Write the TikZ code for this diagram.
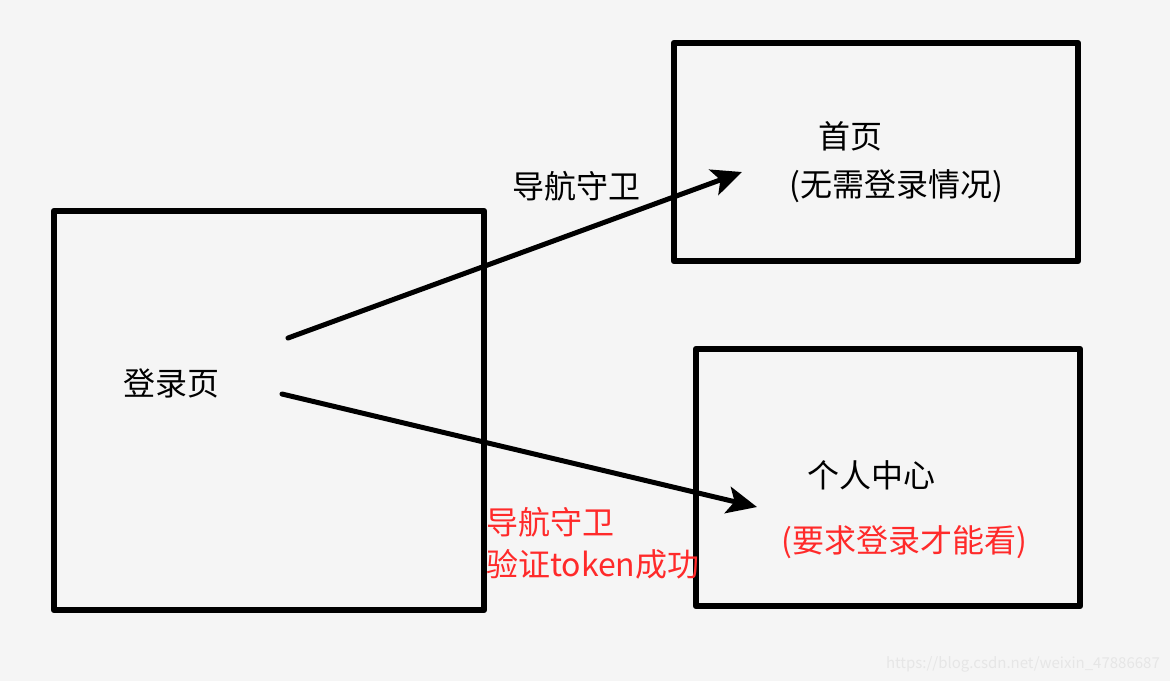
\documentclass[tikz,border=0pt]{standalone}
\usepackage{fontspec}
\setmainfont{Noto Sans CJK SC}
\usetikzlibrary{arrows.meta}
\definecolor{bg}{HTML}{F5F5F5}
\definecolor{redtext}{HTML}{FF2A2A}
\definecolor{wm}{HTML}{E6E6E6}
\tikzset{
  pagebox/.style={draw=black, line width=6.5pt, line join=round},
  conn/.style={draw=black, line width=5pt, line cap=round, -{Stealth[length=30pt,width=27pt,inset=7pt]}},
  lbl/.style={inner sep=0pt, font=\fontsize{32}{38}\selectfont},
  redlbl/.style={lbl, text=redtext},
}
\begin{document}
\begin{tikzpicture}[x=1pt,y=-1pt]
\fill[bg] (0,0) rectangle (1170,681);
\useasboundingbox (0,0) rectangle (1170,681);
% boxes
\draw[pagebox] (54,211) rectangle (484,610);
\draw[pagebox] (674,43) rectangle (1078,261);
\draw[pagebox] (696,349) rectangle (1080,606);
% texts
\node[lbl] (login) at (171,383) {登录页};
\node[lbl] (home) at (850,136) {首页};
\node[lbl] (homesub) at (896,186) {(无需登录情况)};
\node[lbl] (user) at (871,475) {个人中心};
\node[redlbl] (usersub) at (904,542) {(要求登录才能看)};
\node[lbl] (guard1) at (576,186) {导航守卫};
\node[redlbl, anchor=west] (guard2a) at (486,522) {导航守卫};
\node[redlbl, anchor=west] (guard2b) at (486,564) {验证token成功};
% connectors
\coordinate (s1) at (288,338);
\coordinate (e1) at (742,172);
\coordinate (s2) at (282,394);
\coordinate (e2) at (757,507);
\draw[conn] (s1) -- (e1);
\draw[conn] (s2) -- (e2);
% watermark
\node[inner sep=0pt, text=wm, font=\fontsize{15}{17}\selectfont, anchor=east] (wmark) at (1160,664) {https://blog.csdn.net/weixin\_47886687};
\end{tikzpicture}
\end{document}
